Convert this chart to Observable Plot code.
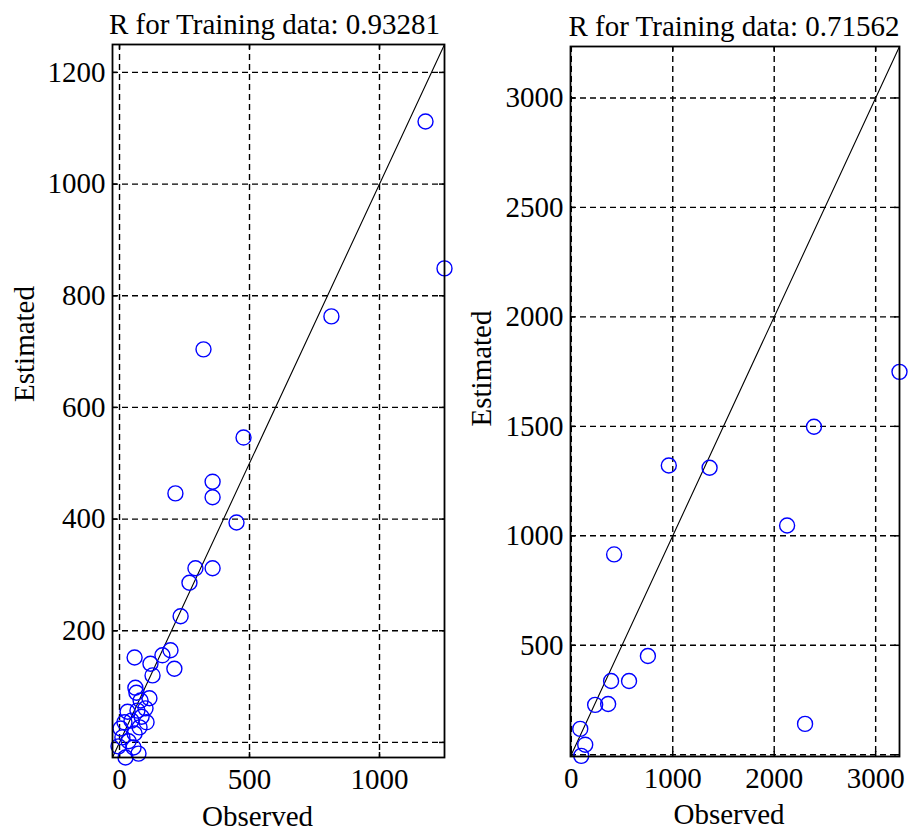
<!DOCTYPE html>
<html><head><meta charset="utf-8">
<script src="https://cdn.jsdelivr.net/npm/d3@7"></script>
<script src="https://cdn.jsdelivr.net/npm/@observablehq/plot@0.6"></script>
<style>
body{margin:0;background:#fff;}
#wrap{position:relative;width:908px;height:834px;overflow:hidden;}
#left,#right{position:absolute;top:0;}
#left{left:0}
#right{left:454px}
svg{overflow:visible}
</style></head><body>
<div id="wrap"><div id="left"></div><div id="right"></div></div>
<script>
// ---- Left panel data ----
const leftTitle = "R for Training data: 0.93281";
const leftObserved = [1177, 1250, 815, 323, 477, 358, 358, 215, 450, 292, 358, 269, 235,
  58, 196, 165, 119, 211, 127, 61, 65, 115, 81, 31, 69, 85, 19, 46, 4, 77, 100, 104, 11, 58, 35, -4, 54, 73, 23];
const leftEstimated = [1112, 849, 763, 704, 546, 467, 439, 446, 394, 312, 312, 286, 226,
  152, 165, 156, 141, 132, 120, 98, 89, 79, 75, 55, 57, 46, 36, 39, 25, 27, 61, 36, 9, 16, 2, -7, -9, -20, -27];
const leftDomain = [-27, 1250];
const leftXTicks = [0, 500, 1000];
const leftYGrid = [0, 200, 400, 600, 800, 1000, 1200];
const leftYLabels = [200, 400, 600, 800, 1000, 1200];

// ---- Right panel data ----
const rightTitle = "R for Training data: 0.71562";
const rightObserved = [3235, 2392, 961, 1363, 2127, 422, 755, 569, 392, 363, 235, 2304, 88, 137, 98];
const rightEstimated = [1749, 1498, 1321, 1311, 1047, 915, 451, 337, 337, 232, 228, 141, 118, 46, -5];
const rightDomain = [-8, 3235];
const rightXTicks = [0, 1000, 2000, 3000];
const rightYGrid = [0, 500, 1000, 1500, 2000, 2500, 3000];
const rightYLabels = [500, 1000, 1500, 2000, 2500, 3000];

const xLabel = "Observed";
const yLabel = "Estimated";
const FONT = '"Liberation Serif","Times New Roman",serif';

function panel(cfg) {
  const W = 454, H = 834;
  const m = cfg.margins;
  const fw = W - m.left - m.right, fh = H - m.top - m.bottom;
  const pts = cfg.obs.map((o, i) => ({o, e: cfg.est[i]}));
  const diag = cfg.domain.map(v => ({o: v, e: v}));
  const dash = {stroke: "black", strokeDasharray: "6,4", strokeWidth: 1.4};
  const tk = {stroke: "black", strokeWidth: 1.5};
  return Plot.plot({
    width: W, height: H,
    marginLeft: m.left, marginRight: m.right, marginTop: m.top, marginBottom: m.bottom,
    x: {domain: cfg.domain, type: "linear"},
    y: {domain: cfg.domain, type: "linear"},
    style: {fontFamily: FONT, fontSize: "29px", color: "black", background: "white"},
    marks: [
      Plot.ruleX(cfg.xTicks, dash),
      Plot.ruleY(cfg.yGrid, dash),
      Plot.tickX(cfg.xTicks, {x: d => d, insetTop: fh - 5, ...tk}),
      Plot.tickX(cfg.xTicks, {x: d => d, insetBottom: fh - 5, ...tk}),
      Plot.tickY(cfg.yGrid, {y: d => d, insetRight: fw - 5, ...tk}),
      Plot.tickY(cfg.yGrid, {y: d => d, insetLeft: fw - 5, ...tk}),
      Plot.line(diag, {x: "o", y: "e", stroke: "black", strokeWidth: 1.1}),
      Plot.dot(pts, {x: "o", y: "e", r: 7.5, stroke: "#0000ff", strokeWidth: 1.4, fill: "none"}),
      Plot.frame({stroke: "black", strokeWidth: 1.8}),
      Plot.axisX(cfg.xTicks, {tickSize: 0, tickPadding: 11, label: null, fontSize: 29, tickFormat: d => String(d)}),
      Plot.axisY(cfg.yLabels, {tickSize: 0, tickPadding: 7, label: null, fontSize: 29, tickFormat: d => String(d)}),
      Plot.text([cfg.title], {text: d => d, frameAnchor: "top", textAnchor: "middle", lineAnchor: "middle", dy: -20, dx: cfg.titleDx, fontSize: 29, fill: "black"}),
      Plot.text([xLabel], {text: d => d, frameAnchor: "bottom", textAnchor: "middle", lineAnchor: "middle", dy: cfg.xLabelDy, dx: cfg.xLabelDx, fontSize: 29, fill: "black"}),
      Plot.text([yLabel], {text: d => d, frameAnchor: "left", textAnchor: "middle", lineAnchor: "middle", rotate: -90, dx: cfg.yLabelDx, dy: cfg.yLabelDy, fontSize: 29, fill: "black"})
    ]
  });
}

document.getElementById("left").append(panel({
  obs: leftObserved, est: leftEstimated, domain: leftDomain,
  xTicks: leftXTicks, yGrid: leftYGrid, yLabels: leftYLabels, title: leftTitle,
  margins: {left: 112, right: 10, top: 44, bottom: 77},
  titleDx: -4, xLabelDx: -21, xLabelDy: 59, yLabelDx: -88, yLabelDy: -57
}));
document.getElementById("right").append(panel({
  obs: rightObserved, est: rightEstimated, domain: rightDomain,
  xTicks: rightXTicks, yGrid: rightYGrid, yLabels: rightYLabels, title: rightTitle,
  margins: {left: 116, right: 9, top: 46, bottom: 78},
  titleDx: -1, xLabelDx: -6, xLabelDy: 58, yLabelDx: -89, yLabelDy: -33
}));
</script>
</body></html>
